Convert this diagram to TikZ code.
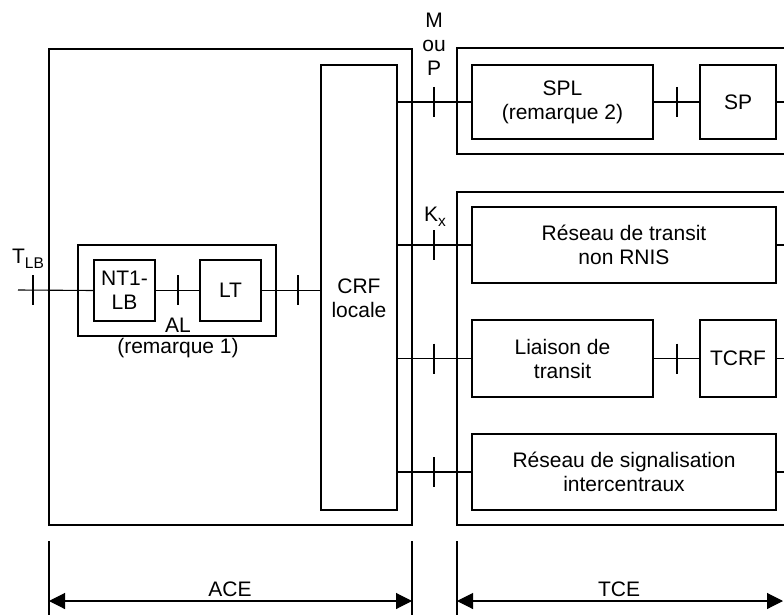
\documentclass[tikz,border=0pt]{standalone}
\usepackage{fontspec}
\setmainfont{Liberation Sans}
\usetikzlibrary{arrows.meta}
\newcommand{\mysub}[1]{\raisebox{-0.22em}{\fontsize{15.5}{15.5}\selectfont #1}}
\begin{document}
\begin{tikzpicture}[x=1pt,y=-1pt,line width=1.1pt,
  font=\fontsize{21}{24}\selectfont,
  box/.style={draw,rectangle,inner sep=0pt,align=center},
  lbl/.style={inner sep=0pt,align=center},
  tk/.style={line width=1.1pt},
  dimarrow/.style={{Triangle[length=16pt,width=16pt]}-{Triangle[length=16pt,width=16pt]}}
]
\useasboundingbox (0,0) rectangle (784,615);
\clip (0,0) rectangle (784,615);

% enclosing boxes
\node[box,minimum width=363pt,minimum height=476pt] (ace) at (230.5,287) {};
\node[box,minimum width=343pt,minimum height=106pt] (tce1) at (628.5,101) {};
\node[box,minimum width=343pt,minimum height=333pt] (tce2) at (628.5,358.5) {};

% left part
\node[box,minimum width=198pt,minimum height=91pt] (al) at (177,290.5) {};
\node[box,minimum width=61pt,minimum height=61pt] (nt1) at (124.5,290.5) {NT1-\\LB};
\node[box,minimum width=61pt,minimum height=61pt] (lt) at (230.5,290.5) {LT};
\node[box,minimum width=76pt,minimum height=445pt] (crf) at (359,287.5) {};
\node[lbl] (crft) at (359,298) {CRF\\locale};
\node[lbl] (allbl) at (178,325) {AL};
\node[lbl] (rem1) at (178,348) {(remarque 1)};

% right part
\node[box,minimum width=181pt,minimum height=74pt] (spl) at (562.5,102) {SPL\\(remarque 2)};
\node[box,minimum width=76pt,minimum height=74pt] (sp) at (738,102) {SP};
\node[box,minimum width=304pt,minimum height=76pt] (rtn) at (624,245) {Réseau de transit\\non RNIS};
\node[box,minimum width=181pt,minimum height=77pt] (lia) at (562.5,358.5) {Liaison de\\transit};
\node[box,minimum width=76pt,minimum height=77pt] (tcrf) at (738,358.5) {TCRF};
\node[box,minimum width=304pt,minimum height=76pt] (rsi) at (624,472) {Réseau de signalisation\\intercentraux};

% interface labels
\node[lbl] (tlb) at (28,259) {T\mysub{LB}};
\node[lbl] (mop) at (434,44) {M\\ou\\P};
\node[lbl] (kx) at (435,217) {K\mysub{x}};

% connectors
\coordinate (tin) at (18,290);
\draw (tin) -- (nt1.west);
\draw (nt1.east) -- (lt.west);
\draw (lt.east) -- (crf.west |- lt.east);
\draw (crf.east |- spl.west) -- (spl.west);
\draw (spl.east) -- (sp.west);
\coordinate (e1) at (800,102);
\draw (sp.east) -- (e1);
\draw (crf.east |- rtn.west) -- (rtn.west);
\coordinate (e2) at (800,245);
\draw (rtn.east) -- (e2);
\draw (crf.east |- lia.west) -- (lia.west);
\draw (lia.east) -- (tcrf.west);
\coordinate (e3) at (800,358.5);
\draw (tcrf.east) -- (e3);
\draw (crf.east |- rsi.west) -- (rsi.west);
\coordinate (e4) at (800,472);
\draw (rsi.east) -- (e4);

% ticks
\foreach \x/\y in {33/290,178/290,298/290,434/102,434/245,434/358.5,434/472,677/102,677/358.5}
  \draw[tk] (\x,\y-15) -- (\x,\y+15);

% dimension lines
\coordinate (d1t) at (49,541);
\coordinate (d1b) at (49,620);
\coordinate (d2t) at (412,541);
\coordinate (d2b) at (412,620);
\coordinate (d3t) at (457,541);
\coordinate (d3b) at (457,620);
\draw (d1t) -- (d1b);
\draw (d2t) -- (d2b);
\draw (d3t) -- (d3b);
\coordinate (a1l) at (49,601);
\coordinate (a1r) at (412,601);
\coordinate (a2l) at (457,601);
\coordinate (a2r) at (783,601);
\draw[dimarrow] (a1l) -- (a1r);
\draw[dimarrow] (a2l) -- (a2r);
\node[lbl] (acel) at (230,589) {ACE};
\node[lbl] (tcel) at (619,589) {TCE};
\end{tikzpicture}
\end{document}
